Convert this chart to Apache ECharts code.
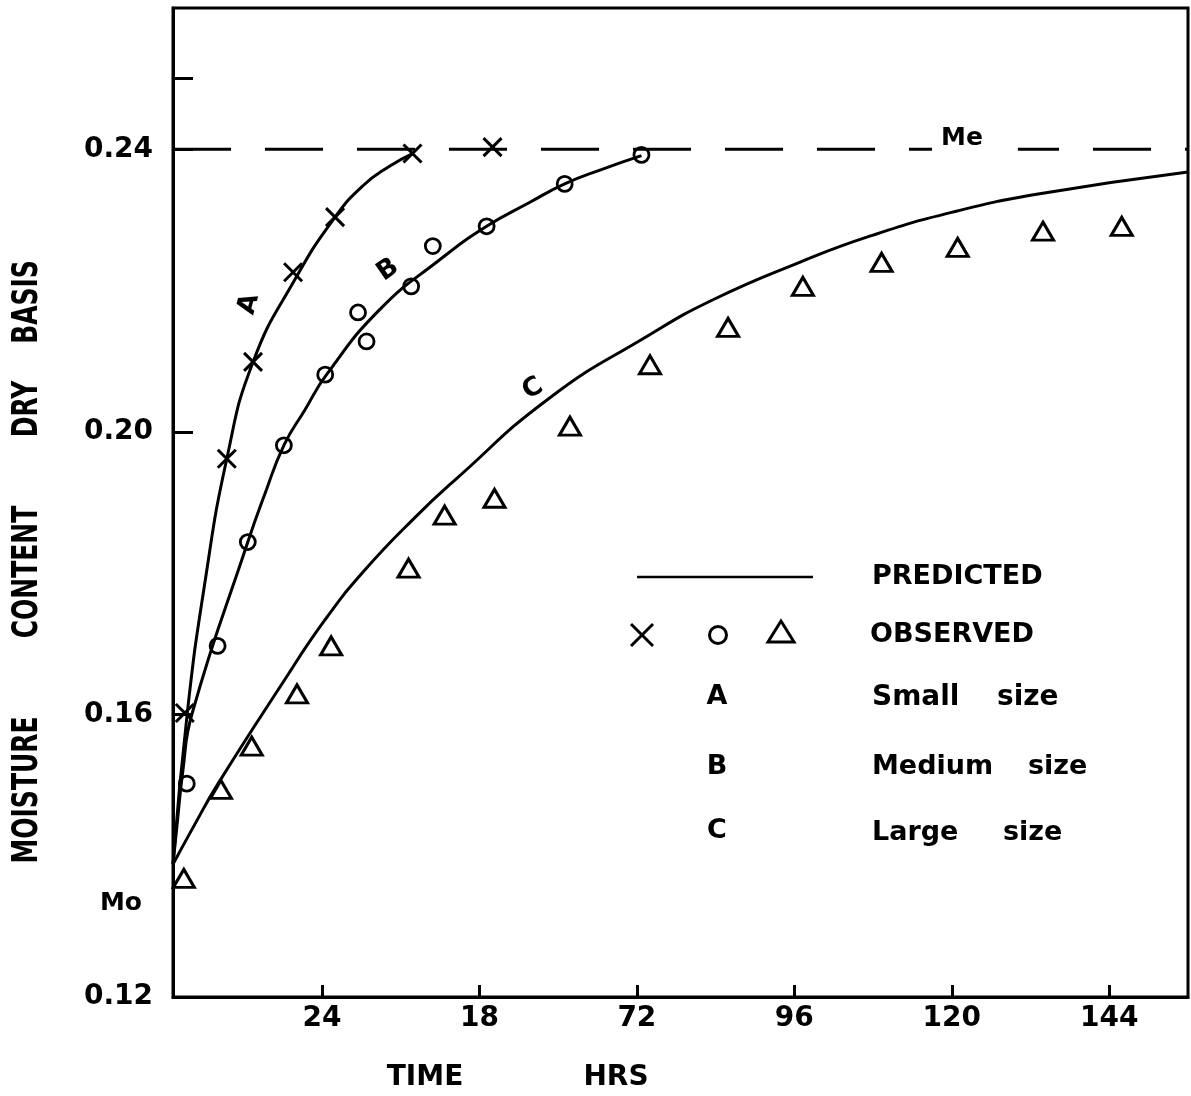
<!DOCTYPE html>
<html>
<head>
<meta charset="utf-8">
<script src="https://cdn.jsdelivr.net/npm/echarts@6/dist/echarts.min.js"></script>
<style>
  html, body { margin: 0; padding: 0; background: #fff; }
  #chart { width: 1191px; height: 1096px; }
</style>
</head>
<body>
<div id="chart"></div>
<script>
// ---- data (hours, moisture content dry basis) ----
const xTickValues = [24, 48, 72, 96, 120, 144];
const xTickLabels = ['24', '18', '72', '96', '120', '144'];
const yTickValues = [0.16, 0.20, 0.24, 0.25];
const yLabelValues = [0.12, 0.16, 0.20, 0.24];
const equilibriumMoisture = 0.24;
const timeRange = [1.3, 156];

const predictedA = [[1.3,0.1388],[3.5,0.1604],[6.1,0.1783],[9.5,0.1962],[13.5,0.2099],
  [19.9,0.2216],[26.0,0.2304],[30.2,0.2348],[34.3,0.2376],[37.8,0.2394]];
const predictedB = [[1.3,0.1388],[1.9,0.1442],[2.8,0.1520],[4.2,0.1601],[12.7,0.1844],
  [15.3,0.1912],[18.2,0.1981],[21.4,0.2031],[24.7,0.2081],[32.8,0.2173],[42.0,0.2244],
  [49.1,0.2291],[55.7,0.2325],[61.0,0.2351],[66.8,0.2372],[72.7,0.2391]];
const predictedC = [[1.3,0.1388],[4.6,0.1444],[8.1,0.1501],[17.9,0.1643],[24.4,0.1733],
  [30.5,0.1804],[38.2,0.1879],[44.3,0.1932],[58.7,0.2048],[73.5,0.2135],[83.6,0.2187],
  [96.8,0.2240],[107.5,0.2277],[120.1,0.2311],[133.4,0.2337],[156,0.2368]];

const observedA = [[3.1,0.1602],[9.5,0.1962],[13.5,0.2099],[19.6,0.2226],[26.0,0.2304],
  [37.8,0.2394],[50.0,0.2403]];
const observedB = [[3.4,0.1502],[8.1,0.1697],[12.7,0.1844],[18.2,0.1981],[24.5,0.2081],
  [30.8,0.2128],[29.5,0.2169],[37.6,0.2206],[40.9,0.2263],[49.1,0.2291],[61.0,0.2351],[72.7,0.2392]];
const observedC = [[2.95,0.1368],[8.6,0.1494],[13.3,0.1555],[20.2,0.1629],[25.4,0.1697],
  [37.2,0.1807],[42.7,0.1882],[50.3,0.1906],[61.8,0.2008],[74.0,0.2095],[85.9,0.2148],
  [97.3,0.2206],[109.3,0.2240],[120.9,0.2261],[133.9,0.2284],[145.9,0.2291]];

// ---- chart ----
const FONT = '"DejaVu Sans", "Liberation Sans", sans-serif';
const chart = echarts.init(document.getElementById('chart'), null, { renderer: 'canvas' });

function txt(text, x, y, size, opts) {
  opts = opts || {};
  return {
    type: 'text', x: x, y: y, z: 100,
    rotation: opts.rotation || 0,
    scaleY: opts.scaleY || 1,
    style: {
      text: text, fill: '#000',
      font: 'bold ' + size + 'px ' + FONT,
      align: opts.align || 'center', verticalAlign: 'middle',
      backgroundColor: opts.bg, padding: opts.padding
    }
  };
}

const predictedLine = (name, data) => ({
  name: name, type: 'line', data: data, symbol: 'none', smooth: 0.5,
  lineStyle: { color: '#000', width: 3 }, z: 3, silent: true
});

const observedScatter = (name, data, symbol, size, bw) => ({
  name: name, type: 'scatter', data: data, symbol: symbol, symbolSize: size, z: 5,
  itemStyle: { color: 'rgba(0,0,0,0)', borderColor: '#000', borderWidth: bw, opacity: 1 }
});

const option = {
  animation: false,
  backgroundColor: '#fff',
  grid: { left: 173, right: 3, top: 8, bottom: 99, show: true, borderColor: '#000', borderWidth: 3 },
  xAxis: {
    type: 'value', min: timeRange[0], max: timeRange[1],
    axisLine: { show: true, onZero: false, lineStyle: { color: '#000', width: 3 } },
    axisTick: { show: true, inside: true, length: 12, customValues: xTickValues,
      lineStyle: { color: '#000', width: 3 } },
    axisLabel: { show: true, customValues: xTickValues, margin: 8, color: '#000',
      fontFamily: FONT, fontWeight: 'bold', fontSize: 28,
      formatter: v => xTickLabels[xTickValues.indexOf(Math.round(v))] },
    splitLine: { show: false }
  },
  yAxis: {
    type: 'value', min: 0.12, max: 0.26,
    axisLine: { show: true, onZero: false, lineStyle: { color: '#000', width: 3 } },
    axisTick: { show: true, inside: true, length: 20, customValues: yTickValues,
      lineStyle: { color: '#000', width: 3 } },
    axisLabel: { show: true, customValues: yLabelValues, margin: 20, color: '#000',
      fontFamily: FONT, fontWeight: 'bold', fontSize: 28,
      formatter: v => v.toFixed(2) },
    splitLine: { show: false }
  },
  series: [
    {
      name: 'Me', type: 'line', data: [[timeRange[0], equilibriumMoisture], [timeRange[1], equilibriumMoisture]],
      symbol: 'none', lineStyle: { color: '#000', width: 3, type: [58, 34], dashOffset: 0 }, z: 2, silent: true
    },
    predictedLine('Predicted A', predictedA),
    predictedLine('Predicted B', predictedB),
    predictedLine('Predicted C', predictedC),
    observedScatter('Observed A', observedA, 'path://M0 0L10 10M10 0L0 10', 18, 3),
    observedScatter('Observed B', observedB, 'circle', 15, 2.8),
    observedScatter('Observed C', observedC, 'triangle', [21, 18], 3)
  ],
  graphic: [
    // y-axis title words
    txt('MOISTURE', 28, 790, 25, { rotation: Math.PI / 2, scaleY: 1.4 }),
    txt('CONTENT', 28, 572, 25, { rotation: Math.PI / 2, scaleY: 1.4 }),
    txt('DRY', 28, 409, 25, { rotation: Math.PI / 2, scaleY: 1.4 }),
    txt('BASIS', 28, 302, 25, { rotation: Math.PI / 2, scaleY: 1.4 }),
    // x-axis title
    txt('TIME', 425, 1078, 28),
    txt('HRS', 616, 1078, 28),
    // Mo / Me
    txt('Mo', 121, 903, 25),
    txt('Me', 932, 138, 25, { align: 'left', bg: '#fff', padding: [0, 35, 6, 9] }),
    // curve labels
    txt('A', 249, 304, 26, { rotation: 75 * Math.PI / 180 }),
    txt('B', 388, 270, 26, { rotation: 35 * Math.PI / 180 }),
    txt('C', 533, 389, 26, { rotation: 30 * Math.PI / 180 }),
    // legend
    { type: 'line', z: 100, shape: { x1: 637, y1: 577, x2: 813, y2: 577 }, style: { stroke: '#000', lineWidth: 2.5 } },
    { type: 'line', z: 100, shape: { x1: 631, y1: 624, x2: 653, y2: 646 }, style: { stroke: '#000', lineWidth: 3 } },
    { type: 'line', z: 100, shape: { x1: 653, y1: 624, x2: 631, y2: 646 }, style: { stroke: '#000', lineWidth: 3 } },
    { type: 'circle', z: 100, shape: { cx: 718, cy: 635, r: 8.5 }, style: { fill: 'none', stroke: '#000', lineWidth: 3 } },
    { type: 'polygon', z: 100, shape: { points: [[781, 621], [768, 642], [794, 642]] }, style: { fill: 'none', stroke: '#000', lineWidth: 3 } },
    txt('PREDICTED', 872, 577, 27, { align: 'left' }),
    txt('OBSERVED', 870, 635, 27, { align: 'left' }),
    txt('A', 717, 697, 27),
    txt('B', 717, 767, 27),
    txt('C', 717, 831, 27),
    txt('Small', 872, 698, 28, { align: 'left' }),
    txt('size', 997, 698, 28, { align: 'left' }),
    txt('Medium', 872, 767, 27, { align: 'left' }),
    txt('size', 1028, 767, 27, { align: 'left' }),
    txt('Large', 872, 833, 27, { align: 'left' }),
    txt('size', 1003, 833, 27, { align: 'left' })
  ]
};
chart.setOption(option);
</script>
</body>
</html>
